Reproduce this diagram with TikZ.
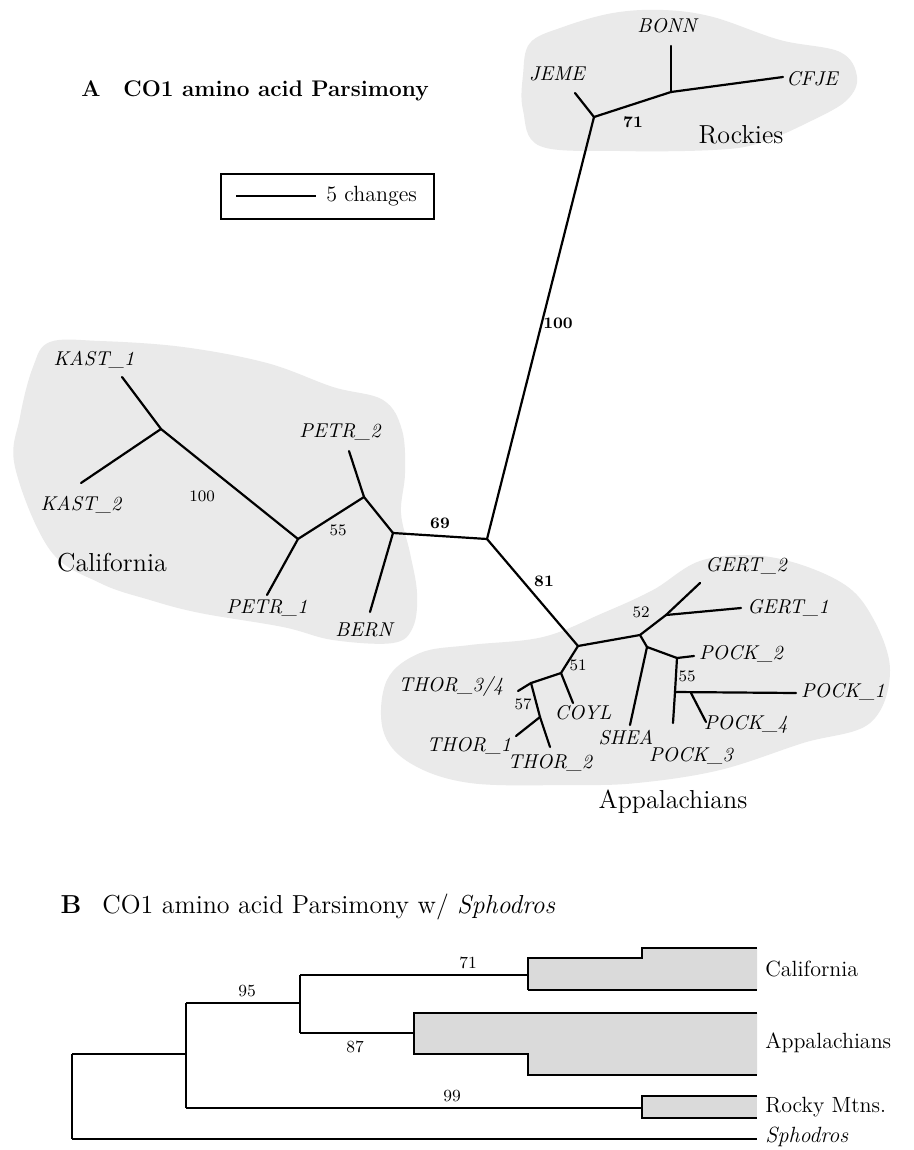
\documentclass[tikz,border=0pt]{standalone}
\definecolor{blobgray}{RGB}{234,234,234}
\definecolor{boxgray}{RGB}{218,218,218}
\begin{document}
\begin{tikzpicture}[x=0.5pt,y=-0.5pt,
  br/.style={line width=1.1pt, line cap=round},
  bl/.style={line width=0.8pt},
  tip/.style={font=\fontsize{10}{12}\selectfont\itshape, inner sep=0pt},
  supp/.style={font=\fontsize{8}{9}\selectfont, inner sep=0pt},
  bsupp/.style={font=\fontsize{8}{9}\selectfont\bfseries, inner sep=0pt},
  region/.style={font=\fontsize{13}{15}\selectfont, inner sep=0pt},
  bregion/.style={font=\fontsize{11}{13}\selectfont, inner sep=0pt, anchor=west},
  blob/.style={fill=blobgray, draw=none},
]
\useasboundingbox[fill=white] (0,0) rectangle (914,1150);

% ---------- shaded regions (panel A)
\fill[blob] plot[smooth cycle, tension=0.6] coordinates {(530,43) (563,27) (613,13) (663,10) (713,17) (780,40) (840,52) (857,77) (847,100) (813,120) (760,143) (713,150) (620,151) (540,146) (523,110) (523,75)};
\fill[blob] plot[smooth cycle, tension=0.6] coordinates {(50,342) (100,341) (183,347) (267,363) (333,387) (383,400) (402,430) (405,473) (401,513) (410,553) (417,593) (413,627) (393,643) (333,640) (283,627) (200,613) (150,600) (100,583) (50,550) (15,467) (20,417) (33,367)};
\fill[blob] plot[smooth cycle, tension=0.6] coordinates {(543,637) (470,645) (420,653) (387,680) (383,730) (410,763) (470,783) (570,785) (637,783) (720,770) (803,743) (870,723) (890,670) (870,613) (837,580) (770,557) (703,560) (653,590) (603,613)};

% ---------- title A and scale
\node[font=\fontsize{11.3}{13}\selectfont\bfseries, anchor=base, inner sep=0pt] (tA) at (91,97) {A};
\node[font=\fontsize{11.3}{13}\selectfont\bfseries, anchor=base west, inner sep=0pt] (tAtext) at (123,97) {CO1 amino acid Parsimony};
\node[draw, line width=0.75pt, minimum width=106.5pt, minimum height=22.5pt, inner sep=0pt] (scalebox) at (327.5,196.5) {};
\coordinate (sc1) at (236,196);
\coordinate (sc2) at (316,196);
\draw[line width=0.9pt] (sc1) -- (sc2);
\node[font=\fontsize{11}{13}\selectfont, anchor=west, inner sep=0pt] (sctext) at (326,196) {5 changes};

% ---------- tree A: internal nodes
\coordinate (root) at (487,539);
\coordinate (R1) at (594,117);
\coordinate (R2) at (671,92);
\coordinate (C1) at (393,533);
\coordinate (C2) at (364,497);
\coordinate (C3) at (298,539);
\coordinate (K) at (161,429);
\coordinate (A1) at (578,646);
\coordinate (A2) at (640,635);
\coordinate (A3) at (666,615);
\coordinate (A4) at (647,647);
\coordinate (A5) at (677,658);
\coordinate (A6) at (675,692);
\coordinate (A7) at (691,693);
\coordinate (T1) at (561,673);
\coordinate (T2) at (531,683);
\coordinate (T3) at (540,717);
% tips
\coordinate (JEMEt) at (575,93);
\coordinate (BONNt) at (671,46);
\coordinate (CFJEt) at (783,77);
\coordinate (PETR2t) at (349,451);
\coordinate (PETR1t) at (267,595);
\coordinate (BERNt) at (370,612);
\coordinate (KAST1t) at (122,377);
\coordinate (KAST2t) at (81,483);
\coordinate (GERT2t) at (700,583);
\coordinate (GERT1t) at (741,608);
\coordinate (SHEAt) at (630,725);
\coordinate (POCK2t) at (694,656);
\coordinate (POCK1t) at (796,693);
\coordinate (POCK4t) at (706,722);
\coordinate (POCK3t) at (673,723);
\coordinate (COYLt) at (573,703);
\coordinate (THOR34t) at (518,691);
\coordinate (THOR1t) at (516,736);
\coordinate (THOR2t) at (550,747);

% branches
\draw[br] (root) -- (R1);
\draw[br] (R1) -- (JEMEt);
\draw[br] (R1) -- (R2);
\draw[br] (R2) -- (BONNt);
\draw[br] (R2) -- (CFJEt);
\draw[br] (root) -- (C1);
\draw[br] (C1) -- (BERNt);
\draw[br] (C1) -- (C2);
\draw[br] (C2) -- (PETR2t);
\draw[br] (C2) -- (C3);
\draw[br] (C3) -- (PETR1t);
\draw[br] (C3) -- (K);
\draw[br] (K) -- (KAST1t);
\draw[br] (K) -- (KAST2t);
\draw[br] (root) -- (A1);
\draw[br] (A1) -- (A2);
\draw[br] (A2) -- (A3);
\draw[br] (A3) -- (GERT2t);
\draw[br] (A3) -- (GERT1t);
\draw[br] (A2) -- (A4);
\draw[br] (A4) -- (SHEAt);
\draw[br] (A4) -- (A5);
\draw[br] (A5) -- (POCK2t);
\draw[br] (A5) -- (A6);
\draw[br] (A6) -- (POCK1t);
\draw[br] (A6) -- (POCK3t);
\draw[br] (A7) -- (POCK4t);
\draw[br] (A1) -- (T1);
\draw[br] (T1) -- (COYLt);
\draw[br] (T1) -- (T2);
\draw[br] (T2) -- (THOR34t);
\draw[br] (T2) -- (T3);
\draw[br] (T3) -- (THOR1t);
\draw[br] (T3) -- (THOR2t);

% tip labels
\node[tip] (JEME) at (557,74) {JEME};
\node[tip] (BONN) at (667,26) {BONN};
\node[tip] (CFJE) at (812,79) {CFJE};
\node[tip] (PETR2) at (340,432) {PETR\_2};
\node[tip] (PETR1) at (267,608) {PETR\_1};
\node[tip] (BERN) at (364,630) {BERN};
\node[tip] (KAST1) at (94,360) {KAST\_1};
\node[tip] (KAST2) at (81,505) {KAST\_2};
\node[tip] (GERT2) at (746,566) {GERT\_2};
\node[tip] (GERT1) at (788,608) {GERT\_1};
\node[tip] (SHEA) at (626,738) {SHEA};
\node[tip] (POCK2) at (741,654) {POCK\_2};
\node[tip] (POCK1) at (843,692) {POCK\_1};
\node[tip] (POCK4) at (746,724) {POCK\_4};
\node[tip] (POCK3) at (691,756) {POCK\_3};
\node[tip] (COYL) at (583,713) {COYL};
\node[tip] (THOR34) at (451,686) {THOR\_3/4};
\node[tip] (THOR1) at (469,746) {THOR\_1};
\node[tip] (THOR2) at (550,763) {THOR\_2};

% support values
\node[bsupp] (s71) at (633,122) {71};
\node[bsupp] (s100a) at (558,323) {100};
\node[bsupp] (s69) at (440,523) {69};
\node[bsupp] (s81) at (544,581) {81};
\node[supp] (s100b) at (202,496) {100};
\node[supp] (s55a) at (338,530) {55};
\node[supp] (s52) at (641,612) {52};
\node[supp] (s51) at (578,665) {51};
\node[supp] (s57) at (523,704) {57};
\node[supp] (s55b) at (687,676) {55};

% region labels
\node[region] (Rockies) at (741,135) {Rockies};
\node[region] (California) at (112,563) {California};
\node[region] (Appalachians) at (673,802) {Appalachians};

% ---------- panel B
\node[font=\fontsize{13}{15}\selectfont\bfseries, anchor=base, inner sep=0pt] (tB) at (71,913) {B};
\node[font=\fontsize{13}{15}\selectfont, anchor=base west, inner sep=0pt] (tBtext) at (102,913) {CO1 amino acid Parsimony w/ \textit{Sphodros}};

\coordinate (b0t) at (72,1054);
\coordinate (b0b) at (72,1139);
\coordinate (b1t) at (186,1003);
\coordinate (b1m) at (186,1054);
\coordinate (b1b) at (186,1108);
\coordinate (b2t) at (300,975);
\coordinate (b2m) at (300,1003);
\coordinate (b2b) at (300,1033);
\coordinate (sphE) at (757,1139);
% California box
\coordinate (cal1) at (528,958);
\coordinate (cal2) at (642,958);
\coordinate (cal3) at (642,948);
\coordinate (cal4) at (757,948);
\coordinate (cal5) at (757,990);
\coordinate (cal6) at (528,990);
\coordinate (calm) at (528,975);
% Appalachians box
\coordinate (app1) at (414,1013);
\coordinate (app2) at (757,1013);
\coordinate (app3) at (757,1075);
\coordinate (app4) at (528,1075);
\coordinate (app5) at (528,1054);
\coordinate (app6) at (414,1054);
\coordinate (appm) at (414,1033);
% Rocky box
\coordinate (roc1) at (642,1096);
\coordinate (roc2) at (757,1096);
\coordinate (roc3) at (757,1118);
\coordinate (roc4) at (642,1118);
\coordinate (rocm) at (642,1108);

\fill[boxgray] (cal1) -- (cal2) -- (cal3) -- (cal4) -- (cal5) -- (cal6) -- cycle;
\fill[boxgray] (app1) -- (app2) -- (app3) -- (app4) -- (app5) -- (app6) -- cycle;
\fill[boxgray] (roc1) -- (roc2) -- (roc3) -- (roc4) -- cycle;

\draw[bl] (b0t) -- (b0b);
\draw[bl] (b0b) -- (sphE);
\draw[bl] (b0t) -- (b1m);
\draw[bl] (b1t) -- (b1b);
\draw[bl] (b1b) -- (rocm);
\draw[bl] (b1t) -- (b2m);
\draw[bl] (b2t) -- (b2b);
\draw[bl] (b2t) -- (calm);
\draw[bl] (b2b) -- (appm);
\draw[bl] (cal6) -- (cal1) -- (cal2) -- (cal3) -- (cal4);
\draw[bl] (cal6) -- (cal5);
\draw[bl] (app2) -- (app1) -- (app6) -- (app5) -- (app4) -- (app3);
\draw[bl] (roc2) -- (roc1) -- (roc4) -- (roc3);

\node[supp, font=\fontsize{8.5}{10}\selectfont] (b71) at (468,963) {71};
\node[supp, font=\fontsize{8.5}{10}\selectfont] (b95) at (247,991) {95};
\node[supp, font=\fontsize{8.5}{10}\selectfont] (b87) at (355,1047) {87};
\node[supp, font=\fontsize{8.5}{10}\selectfont] (b99) at (452,1096) {99};

\node[bregion] (bCal) at (765,969) {California};
\node[bregion] (bApp) at (765,1043) {Appalachians};
\node[bregion] (bRoc) at (765,1107) {Rocky Mtns.};
\node[bregion, font=\fontsize{11}{13}\selectfont\itshape] (bSph) at (765,1137) {Sphodros};
\end{tikzpicture}
\end{document}
